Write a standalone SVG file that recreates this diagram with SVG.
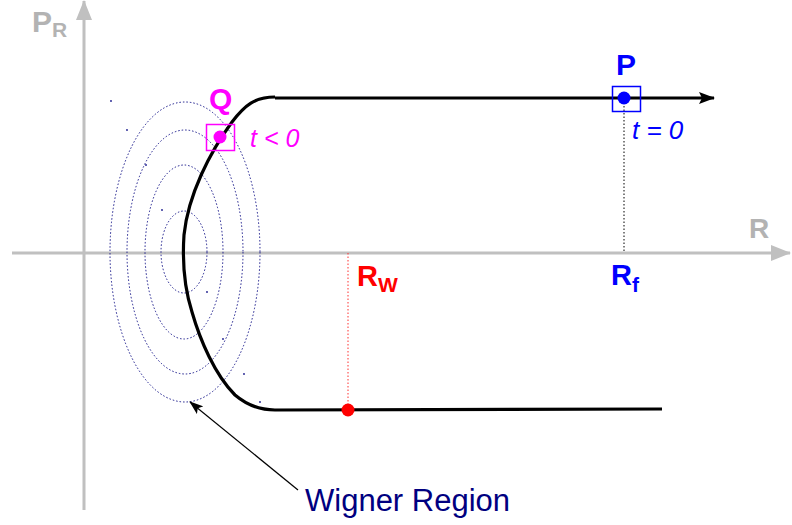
<svg xmlns="http://www.w3.org/2000/svg" width="792" height="525" viewBox="0 0 792 525">
<style>
.axis{stroke:#c0c0c0;stroke-width:3;fill:none}
.axl{fill:#b3b3b3;font-family:"Liberation Sans",Arial,sans-serif;font-weight:bold}
.ell{fill:none;stroke:#1a1a8c;stroke-width:1;stroke-dasharray:1.5,2}
.dot{fill:#1a1a8c}
.traj{fill:none;stroke:#000;stroke-width:3.2}
.lbl{font-family:"Liberation Sans",Arial,sans-serif}
</style>
<defs>
<marker id="ga2" viewBox="0 0 20 16" refX="19" refY="8" markerWidth="20" markerHeight="16" orient="auto" markerUnits="userSpaceOnUse"><path d="M0,0 L20,8 L0,16 Z" fill="#c0c0c0"/></marker>
<marker id="ba" viewBox="0 0 16 12" refX="15" refY="6" markerWidth="16" markerHeight="12" orient="auto" markerUnits="userSpaceOnUse"><path d="M0,0 L16,6 L0,12 L3,6 Z" fill="#000"/></marker>
<marker id="sa" viewBox="0 0 14 10" refX="13" refY="5" markerWidth="14" markerHeight="10" orient="auto" markerUnits="userSpaceOnUse"><path d="M0,0 L14,5 L0,10 L3,5 Z" fill="#000"/></marker>
</defs>
<g id="axes">
<line class="axis" x1="84" y1="510" x2="84" y2="1" marker-end="url(#ga2)"/>
<line class="axis" x1="12" y1="253" x2="790" y2="253" marker-end="url(#ga2)"/>
<text class="axl" x="32" y="32" font-size="30">P<tspan font-size="21" dy="5">R</tspan></text>
<text class="axl" x="749" y="238" font-size="28">R</text>
</g>
<g id="wigner-region">
<ellipse class="ell" cx="184" cy="252" rx="23" ry="41"/>
<ellipse class="ell" cx="184" cy="252" rx="39" ry="87"/>
<ellipse class="ell" cx="185" cy="252" rx="58" ry="122"/>
<ellipse class="ell" cx="185" cy="252" rx="75" ry="150"/>
<circle class="dot" cx="111" cy="101" r="0.9"/>
<circle class="dot" cx="127" cy="130" r="0.9"/>
<circle class="dot" cx="146" cy="165" r="0.9"/>
<circle class="dot" cx="162" cy="210" r="0.9"/>
<circle class="dot" cx="207" cy="292" r="0.9"/>
<circle class="dot" cx="223" cy="339" r="0.9"/>
<circle class="dot" cx="244" cy="374" r="0.9"/>
<circle class="dot" cx="260" cy="402" r="0.9"/>
</g>
<g id="connectors">
<path class="traj" d="M275,97 C255,97 245,105 232,122 C210,152 188,195 184,235 C182,265 185,290 192,312 C200,340 215,375 235,395 C248,406 260,410 275,410 L662,409"/>
<line class="traj" x1="275" y1="98" x2="714" y2="98" marker-end="url(#ba)"/>
<line x1="624" y1="106" x2="624" y2="253" stroke="#000" stroke-width="1" stroke-dasharray="1.5,2"/>
<line x1="348" y1="253" x2="348" y2="408" stroke="#ff3030" stroke-width="1" stroke-dasharray="1.5,2"/>
<line x1="298" y1="490" x2="190" y2="402" stroke="#000" stroke-width="1.2" marker-end="url(#sa)"/>
</g>
<g id="Q">
<rect x="206.5" y="124.5" width="28" height="26" fill="none" stroke="#ff00ff" stroke-width="1.5"/>
<circle cx="220" cy="137" r="6.5" fill="#ff00ff"/>
<text class="lbl" x="209" y="109" font-size="30" font-weight="bold" fill="#ff00ff">Q</text>
<text class="lbl" x="250" y="147" font-size="25" font-style="italic" fill="#ff00ff">t &lt; 0</text>
</g>
<g id="P">
<rect x="612.5" y="86.5" width="28" height="25" fill="none" stroke="#0000ff" stroke-width="1.5"/>
<circle cx="624" cy="98" r="6.5" fill="#0000ff"/>
<text class="lbl" x="616" y="75" font-size="30" font-weight="bold" fill="#0000ff">P</text>
<text class="lbl" x="632" y="139" font-size="26" font-style="italic" fill="#0000ff">t = 0</text>
</g>
<g id="Rf">
<text class="lbl" x="611" y="285" font-size="29" font-weight="bold" fill="#0000ff">R<tspan font-size="21" dy="7">f</tspan></text>
</g>
<g id="Rw">
<circle cx="348" cy="410" r="6.5" fill="#ff0000"/>
<text class="lbl" x="357" y="286" font-size="29" font-weight="bold" fill="#ff0000">R<tspan font-size="21" dy="6">W</tspan></text>
</g>
<g id="label-wigner">
<text class="lbl" x="305" y="511" font-size="31" fill="#000080">Wigner Region</text>
</g>
</svg>
